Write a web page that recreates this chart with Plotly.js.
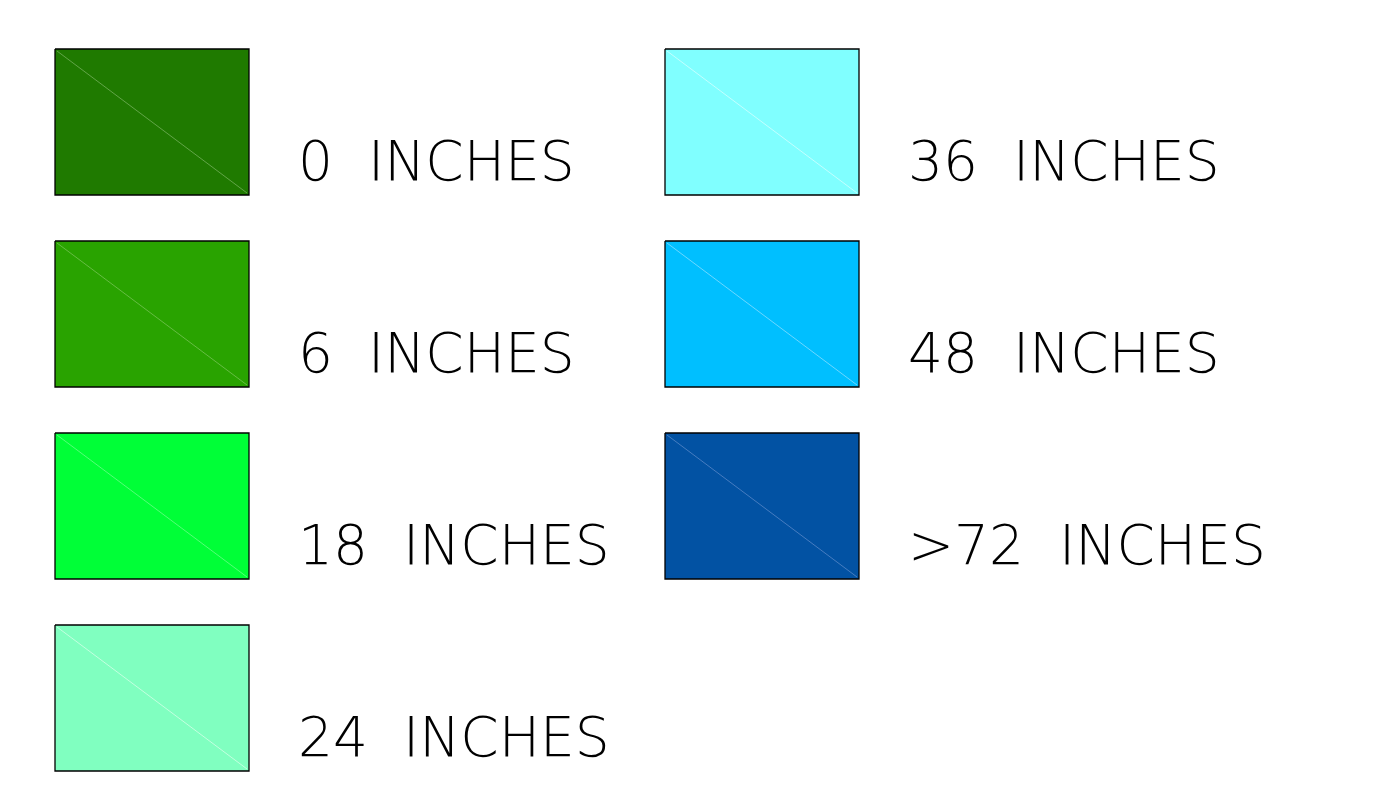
<!DOCTYPE html>
<html>
<head>
<meta charset="utf-8">
<script src="https://cdn.plot.ly/plotly-3.0.1.min.js"></script>
<style>html,body{margin:0;padding:0;background:#fff;}#chart{width:1381px;height:796px;}</style>
</head>
<body>
<div id="chart"></div>
<script>
// Legend categories (depth classes) and their colours
const categories = ['0\u00a0\u00a0INCHES', '6\u00a0\u00a0INCHES', '18\u00a0\u00a0INCHES', '24\u00a0\u00a0INCHES', '36\u00a0\u00a0INCHES', '48\u00a0\u00a0INCHES', '>72\u00a0\u00a0INCHES'];
const colors = ['#1f7a00', '#29a300', '#00ff37', '#80ffc0', '#80ffff', '#00bfff', '#0252a3'];
const diagColors = ['rgba(150,200,130,0.7)', 'rgba(150,210,120,0.7)', 'rgba(150,255,170,0.7)', 'rgba(220,255,235,0.9)', 'rgba(220,255,255,0.9)', 'rgba(170,230,255,0.8)', 'rgba(110,150,210,0.8)'];
const columnSizes = [4, 3];

// layout geometry
const W = 1381, H = 796;
const colX = [55, 665];
const rowY0 = 49, rowPitch = 192;
const boxW = 194, boxH = 146;
const textDX = 243, textDY = 117;

const traces = [];
const textX = [], textY = [];
let idx = 0;
columnSizes.forEach((n, c) => {
  for (let r = 0; r < n; r++, idx++) {
    const x0 = colX[c], x1 = x0 + boxW;
    const y0 = rowY0 + r * rowPitch, y1 = y0 + boxH;
    traces.push({
      type: 'scatter', mode: 'lines',
      x: [x0, x1, x1, x0, x0], y: [y0, y0, y1, y1, y0],
      fill: 'toself', fillcolor: colors[idx],
      line: {color: '#000', width: 1.3},
      hoverinfo: 'skip', showlegend: false
    });
    traces.push({
      type: 'scatter', mode: 'lines',
      x: [x0 + 2, x1 - 2], y: [y0 + 2, y1 - 2],
      line: {color: diagColors[idx], width: 0.8},
      hoverinfo: 'skip', showlegend: false
    });
    textX.push(x0 + textDX);
    textY.push(y0 + textDY);
  }
});
traces.push({
  type: 'scatter', mode: 'text',
  x: textX, y: textY, text: categories,
  textposition: 'middle right',
  textfont: {family: 'DejaVu Sans', size: 55, color: '#000', weight: 200},
  hoverinfo: 'skip', showlegend: false
});

Plotly.newPlot('chart', traces, {
  width: W, height: H,
  margin: {l: 0, r: 0, t: 0, b: 0},
  paper_bgcolor: '#fff', plot_bgcolor: '#fff',
  xaxis: {range: [0, W], visible: false, fixedrange: true},
  yaxis: {range: [H, 0], visible: false, fixedrange: true},
  showlegend: false
}, {displayModeBar: false, staticPlot: true});
</script>
</body>
</html>
